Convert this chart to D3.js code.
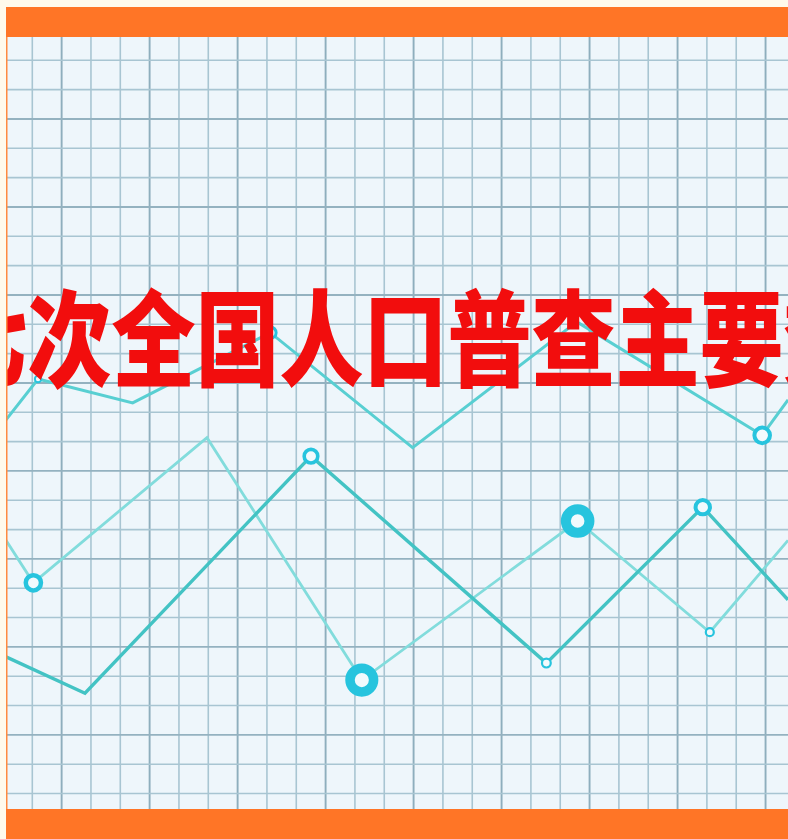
<!DOCTYPE html>
<html><head><meta charset="utf-8">
<script src="https://cdn.jsdelivr.net/npm/d3@7"></script>
<style>html,body{margin:0;padding:0;background:#fffaec;}svg{display:block;}</style>
</head><body>
<script>
// ---- data (value space: x 0..100 across, y 0..100 bottom to top) ----
const titleText = "七次全国人口普查主要数据";
const seriesAx = [0, 4.1, 16.2, 33.8, 52.0, 73.0, 96.7, 100];
const seriesAy = [50.4, 55.7, 52.6, 61.7, 46.8, 63.1, 48.4, 53.0];
const seriesBx = [0, 3.5, 25.7, 45.5, 73.1, 90.0, 100];
const seriesBy = [34.8, 29.3, 48.1, 16.7, 37.3, 22.9, 34.8];
const seriesCx = [0, 10.1, 39.0, 69.1, 89.1, 100];
const seriesCy = [19.7, 15.0, 45.7, 18.9, 39.1, 27.1];
const markedA = [1, 3, 6];
const markedB = [1, 3, 4, 5];
const markedC = [2, 3, 4];

// ---- styles ----
const W = 788, H = 839;
const plot = {left: 6, right: 788, top: 37, bottom: 809};
const markerStyleA = [{r: 3.2, w: 2}, {r: 5.8, w: 3}, {r: 7.8, w: 4}];
const markerStyleB = [{r: 7.6, w: 4.5}, {r: 11.8, w: 9.5}, {r: 11.8, w: 10}, {r: 4, w: 2.2}];
const markerStyleC = [{r: 6.8, w: 3.6}, {r: 4.4, w: 2.2}, {r: 7.2, w: 4}];

const svg = d3.select("body").append("svg").attr("width", W).attr("height", H);
svg.append("rect").attr("width", W).attr("height", H).attr("fill", "#fffaec");

const x = d3.scaleLinear().domain([0, 100]).range([plot.left, plot.right]);
const y = d3.scaleLinear().domain([0, 100]).range([plot.bottom, plot.top]);

svg.append("clipPath").attr("id", "pc").append("rect")
  .attr("x", plot.left).attr("y", plot.top)
  .attr("width", plot.right - plot.left).attr("height", plot.bottom - plot.top);

const g = svg.append("g").attr("clip-path", "url(#pc)");
g.append("rect").attr("x", plot.left).attr("y", plot.top)
  .attr("width", plot.right - plot.left).attr("height", plot.bottom - plot.top)
  .attr("fill", "#eef6fb");

// grid
const step = 29.33, x0 = 32.3, y0 = 60.3;
const vx = d3.range(x0 - step, plot.right + 1, step);
const hy = d3.range(y0 - step, plot.bottom + 1, step);
g.selectAll(".v").data(vx).join("line")
  .attr("x1", d => d).attr("x2", d => d).attr("y1", plot.top).attr("y2", plot.bottom)
  .attr("stroke", (d, i) => i % 3 === 2 ? "#8eaebd" : "#a8c5d2")
  .attr("stroke-width", (d, i) => i % 3 === 2 ? 1.9 : 1.6);
g.selectAll(".h").data(hy).join("line")
  .attr("x1", plot.left).attr("x2", plot.right).attr("y1", d => d).attr("y2", d => d)
  .attr("stroke", (d, i) => i % 3 === 0 ? "#94b2c0" : "#a8c5d2")
  .attr("stroke-width", (d, i) => i % 3 === 0 ? 1.9 : 1.6);

const line = d3.line().x(d => x(d[0])).y(d => y(d[1]));
function drawSeries(xs, ys, color, width, marked, styles) {
  const pts = xs.map((v, i) => [v, ys[i]]);
  g.append("path").datum(pts).attr("d", line)
    .attr("fill", "none").attr("stroke", color).attr("stroke-width", width)
    .attr("stroke-linejoin", "miter");
  g.selectAll(null).data(marked).join("circle")
    .attr("cx", i => x(xs[i])).attr("cy", i => y(ys[i]))
    .attr("r", (i, k) => styles[k].r)
    .attr("fill", "#f2fafd").attr("stroke", "#27c4de")
    .attr("stroke-width", (i, k) => styles[k].w);
}
drawSeries(seriesAx, seriesAy, "#58cfd2", 3, markedA, markerStyleA);
drawSeries(seriesBx, seriesBy, "#82dcdc", 2.8, markedB, markerStyleB);
drawSeries(seriesCx, seriesCy, "#43c3c4", 3.4, markedC, markerStyleC);

// title (intentionally runs past both edges, as in the reference)
const fs = 105, sx = 0.8;
g.append("text")
  .attr("transform", `translate(${x(-8.0)},${y(61.8)}) scale(${sx},1)`)
  .attr("font-family", "'Noto Sans CJK SC','Noto Sans CJK JP',sans-serif")
  .attr("font-weight", 900).attr("font-size", fs)
  .attr("dominant-baseline", "central")
  .attr("fill", "#f20d0d")
  .text(titleText);

// bars
svg.append("rect").attr("x", plot.left).attr("y", 7).attr("width", W - plot.left).attr("height", plot.top - 7).attr("fill", "#ff7526");
svg.append("rect").attr("x", plot.left).attr("y", plot.bottom).attr("width", W - plot.left).attr("height", H - plot.bottom).attr("fill", "#ff7526");
svg.append("rect").attr("x", plot.left).attr("y", plot.top).attr("width", 1.5).attr("height", plot.bottom - plot.top).attr("fill", "#ff8a40");
</script>
</body></html>
